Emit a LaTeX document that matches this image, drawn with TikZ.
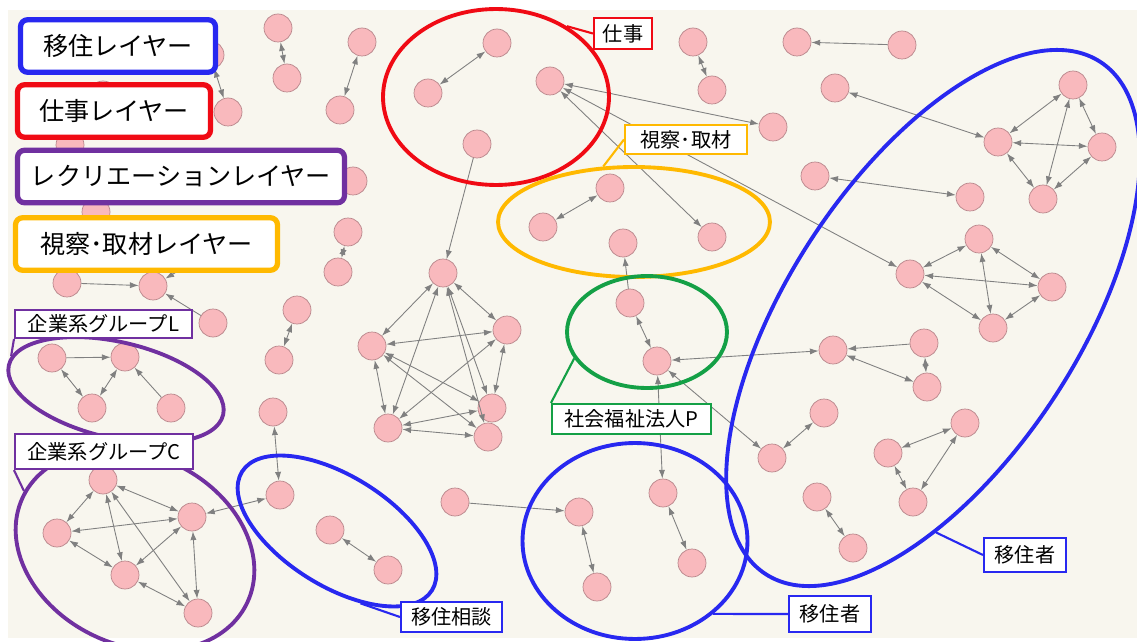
\documentclass[tikz,border=0pt]{standalone}
\usepackage{fontspec}
\setmainfont{Noto Sans CJK JP}
\usetikzlibrary{arrows.meta,shapes.geometric}

\definecolor{bgbeige}{RGB}{248,246,238}
\definecolor{nodepink}{RGB}{249,185,189}
\definecolor{nodeline}{RGB}{185,135,140}
\definecolor{edgegray}{RGB}{128,128,128}
\definecolor{moveblue}{RGB}{40,40,240}
\definecolor{jobred}{RGB}{240,10,20}
\definecolor{recpurple}{RGB}{112,48,160}
\definecolor{visitorange}{RGB}{255,185,0}
\definecolor{welfaregreen}{RGB}{20,160,70}

\begin{document}
\begin{tikzpicture}[x=0.02cm, y=-0.02cm,
    >={Latex[length=5pt,width=3.5pt]},
    pnode/.style={circle, fill=nodepink, draw=nodeline, line width=0.4pt, minimum size=0.56cm, inner sep=0pt},
    link/.style={draw=edgegray, line width=0.5pt},
    area/.style={ellipse, draw=#1, line width=2.2pt, inner sep=0pt},
    callout/.style={draw=#1, line width=1.2pt},
    tag/.style={draw=#1, line width=1.2pt, fill=white, inner sep=0pt, font=\fontsize{11.5pt}{13pt}\selectfont},
    layer/.style={draw=#1, line width=3pt, rounded corners=4pt, fill=white, inner sep=0pt, minimum height=1.05cm, font=\fontsize{14.3pt}{17pt}\selectfont}]

    % Sfondo
    \useasboundingbox (0,0) rectangle (1137,642);
    \fill[white] (0,0) rectangle (1137,642);
    \fill[bgbeige] (8,10) rectangle (1137,638);

    % Nodi nascosti dietro la legenda
    \node[pnode] (h1) at (210,55) {};
    \node[pnode] (h2) at (228,112) {};
    \node[pnode] (h3) at (353,181) {};
    \node[pnode] (h4) at (70,145) {};
    \node[pnode] (h5) at (96,212) {};
    \node[pnode] (h6) at (67,283) {};
    \node[pnode] (h7) at (153,286) {};
    \node[pnode] (h8) at (213,323) {};
    \node[pnode] (h9) at (230,240) {};
    \node[pnode] (h10) at (103,95) {};

    % Nodi in alto a sinistra
    \node[pnode] (a1) at (278,28) {};
    \node[pnode] (a2) at (287,78) {};
    \node[pnode] (a3) at (362,42) {};
    \node[pnode] (a4) at (340,110) {};
    \node[pnode] (b1) at (348,232) {};
    \node[pnode] (b2) at (338,272) {};
    \node[pnode] (b3) at (297,310) {};
    \node[pnode] (b4) at (279,360) {};
    \node[pnode] (b5) at (273,412) {};

    % Lavoro
    \node[pnode] (r1) at (497,43) {};
    \node[pnode] (r2) at (428,93) {};
    \node[pnode] (r3) at (550,81) {};
    \node[pnode] (r4) at (477,144) {};

    % Pentagono
    \node[pnode] (p1) at (443,273) {};
    \node[pnode] (p2) at (372,346) {};
    \node[pnode] (p3) at (507,330) {};
    \node[pnode] (p4) at (388,428) {};
    \node[pnode] (p5) at (492,408) {};
    \node[pnode] (p6) at (488,437) {};

    % Visite e welfare
    \node[pnode] (o1) at (610,188) {};
    \node[pnode] (o2) at (543,227) {};
    \node[pnode] (o3) at (623,243) {};
    \node[pnode] (o4) at (712,237) {};
    \node[pnode] (g1) at (630,303) {};
    \node[pnode] (g2) at (657,361) {};

    % In alto al centro
    \node[pnode] (c1) at (693,42) {};
    \node[pnode] (c2) at (712,90) {};
    \node[pnode] (c3) at (797,42) {};
    \node[pnode] (c4) at (902,45) {};
    \node[pnode] (c5) at (773,127) {};
    \node[pnode] (c6) at (835,88) {};
    \node[pnode] (c7) at (815,176) {};
    \node[pnode] (c8) at (970,197) {};

    % Gruppi a destra
    \node[pnode] (d1) at (1073,85) {};
    \node[pnode] (d2) at (998,142) {};
    \node[pnode] (d3) at (1102,147) {};
    \node[pnode] (d4) at (1043,199) {};
    \node[pnode] (e1) at (979,239) {};
    \node[pnode] (e2) at (910,274) {};
    \node[pnode] (e3) at (1052,287) {};
    \node[pnode] (e4) at (993,328) {};
    \node[pnode] (f1) at (833,350) {};
    \node[pnode] (f2) at (924,343) {};
    \node[pnode] (f3) at (927,387) {};
    \node[pnode] (f4) at (824,413) {};
    \node[pnode] (f5) at (772,458) {};
    \node[pnode] (f6) at (965,423) {};
    \node[pnode] (f7) at (888,453) {};
    \node[pnode] (f8) at (913,502) {};
    \node[pnode] (f9) at (817,497) {};
    \node[pnode] (f10) at (853,548) {};

    % In basso
    \node[pnode] (m1) at (455,502) {};
    \node[pnode] (m2) at (579,512) {};
    \node[pnode] (m3) at (663,493) {};
    \node[pnode] (m4) at (692,563) {};
    \node[pnode] (m5) at (597,587) {};
    \node[pnode] (s1) at (280,495) {};
    \node[pnode] (s2) at (330,530) {};
    \node[pnode] (s3) at (388,570) {};

    % Gruppi aziendali
    \node[pnode] (l1) at (52,358) {};
    \node[pnode] (l2) at (125,357) {};
    \node[pnode] (l3) at (92,408) {};
    \node[pnode] (l4) at (171,408) {};
    \node[pnode] (k1) at (103,480) {};
    \node[pnode] (k2) at (192,517) {};
    \node[pnode] (k3) at (57,533) {};
    \node[pnode] (k4) at (125,575) {};
    \node[pnode] (k5) at (198,613) {};

    % Archi
    \draw[link,<->] (a1) -- (a2);
    \draw[link,<->] (a3) -- (a4);
    \draw[link,<->] (h1) -- (h2);
    \draw[link,<->] (b1) -- (b2);
    \draw[link,<->] (b3) -- (b4);
    \draw[link,<->] (b5) -- (s1);
    \draw[link,->] (h6) -- (h7);
    \draw[link,->] (h8) -- (h7);
    \draw[link,->] (h9) -- (h7);

    \draw[link,<->] (r1) -- (r2);
    \draw[link,->] (r4) -- (p1);
    \draw[link,<->] (r3) -- (c5);
    \draw[link,<->] (r3) -- (o4);
    \draw[link,<->] (r3) -- (e2);

    \draw[link,<->] (p1) -- (p2);
    \draw[link,<->] (p1) -- (p3);
    \draw[link,<->] (p1) -- (p4);
    \draw[link,<->] (p1) -- (p5);
    \draw[link,<->] (p1) -- (p6);
    \draw[link,<->] (p2) -- (p3);
    \draw[link,<->] (p2) -- (p4);
    \draw[link,<->] (p2) -- (p5);
    \draw[link,<->] (p2) -- (p6);
    \draw[link,<->] (p3) -- (p4);
    \draw[link,<->] (p3) -- (p5);
    \draw[link,<->] (p4) -- (p5);
    \draw[link,<->] (p4) -- (p6);

    \draw[link,<->] (c1) -- (c2);
    \draw[link,->] (c4) -- (c3);
    \draw[link,<->] (c6) -- (d2);
    \draw[link,<->] (c7) -- (c8);

    \draw[link,<->] (d1) -- (d2);
    \draw[link,<->] (d1) -- (d3);
    \draw[link,<->] (d1) -- (d4);
    \draw[link,<->] (d2) -- (d3);
    \draw[link,<->] (d2) -- (d4);
    \draw[link,<->] (d3) -- (d4);
    \draw[link,<->] (e1) -- (e2);
    \draw[link,<->] (e1) -- (e3);
    \draw[link,<->] (e1) -- (e4);
    \draw[link,<->] (e2) -- (e3);
    \draw[link,<->] (e2) -- (e4);
    \draw[link,<->] (e3) -- (e4);

    \draw[link,<->] (o1) -- (o2);
    \draw[link,->] (g1) -- (o3);
    \draw[link,<->] (g1) -- (g2);
    \draw[link,<->] (g2) -- (m3);
    \draw[link,<->] (f1) -- (g2);
    \draw[link,<->] (g2) -- (f5);

    \draw[link,->] (f2) -- (f1);
    \draw[link,<->] (f1) -- (f3);
    \draw[link,<->] (f2) -- (f3);
    \draw[link,<->] (f4) -- (f5);
    \draw[link,<->] (f6) -- (f7);
    \draw[link,<->] (f6) -- (f8);
    \draw[link,<->] (f7) -- (f8);
    \draw[link,<->] (f9) -- (f10);

    \draw[link,->] (m1) -- (m2);
    \draw[link,<->] (m2) -- (m5);
    \draw[link,<->] (m3) -- (m4);
    \draw[link,<->] (s2) -- (s3);
    \draw[link,<->] (s1) -- (k2);

    \draw[link,<->] (l1) -- (l3);
    \draw[link,<->] (l2) -- (l3);
    \draw[link,->] (l4) -- (l2);
    \draw[link,->] (l1) -- (l2);
    \draw[link,<->] (k1) -- (k2);
    \draw[link,<->] (k1) -- (k3);
    \draw[link,<->] (k1) -- (k4);
    \draw[link,<->] (k1) -- (k5);
    \draw[link,<->] (k2) -- (k3);
    \draw[link,<->] (k2) -- (k4);
    \draw[link,<->] (k2) -- (k5);
    \draw[link,<->] (k3) -- (k4);
    \draw[link,<->] (k4) -- (k5);

    % Aree
    \node[area=jobred, minimum width=4.52cm, minimum height=3.52cm] (jobarea) at (496,97) {};
    \node[area=visitorange, minimum width=5.44cm, minimum height=2.2cm] (visitarea) at (634,222) {};
    \node[area=welfaregreen, minimum width=3.2cm, minimum height=2.24cm] (welfarearea) at (647,332) {};
    \node[area=moveblue, minimum width=12.24cm, minimum height=5.8cm, rotate=56.8] (migrantareaR) at (933,318) {};
    \node[area=moveblue, minimum width=4.5cm, minimum height=3.92cm] (migrantareaM) at (635,541) {};
    \node[area=moveblue, minimum width=4.48cm, minimum height=2.2cm, rotate=-32] (consultarea) at (337,531) {};
    \node[area=recpurple, minimum width=4.4cm, minimum height=1.92cm, rotate=-13] (groupareaL) at (116,390) {};
    \node[area=recpurple, minimum width=4.96cm, minimum height=3.8cm, rotate=-25] (groupareaC) at (135,550) {};

    % Etichette
    \node[tag=jobred, minimum width=1.16cm, minimum height=0.62cm] (joblabel) at (623,33.5) {仕事};
    \node[tag=visitorange, minimum width=2.44cm, minimum height=0.58cm] (visitlabel) at (686,139.5) {視察･取材};
    \node[tag=welfaregreen, minimum width=3.18cm, minimum height=0.6cm] (welfarelabel) at (631.5,419) {社会福祉法人P};
    \node[tag=recpurple, minimum width=3.54cm, minimum height=0.56cm] (grouplabelL) at (103.5,324) {企業系グループL};
    \node[tag=recpurple, minimum width=3.56cm, minimum height=0.7cm] (grouplabelC) at (104,451.5) {企業系グループC};
    \node[tag=moveblue, minimum width=2.02cm, minimum height=0.6cm] (consultlabel) at (451.5,617) {移住相談};
    \node[tag=moveblue, minimum width=1.64cm, minimum height=0.68cm] (migrantlabelR) at (1025,555) {移住者};
    \node[tag=moveblue, minimum width=1.64cm, minimum height=0.72cm] (migrantlabelM) at (830,614) {移住者};

    \draw[callout=jobred] (jobarea.45) -- (joblabel.west);
    \draw[callout=visitorange] (visitarea.119) -- (visitlabel.west);
    \draw[callout=welfaregreen] (welfarearea.200) -- (welfarelabel.north west);
    \draw[callout=moveblue] (migrantareaR.214) -- (migrantlabelR.west);
    \draw[callout=moveblue] (migrantareaM.317) -- (migrantlabelM.west);
    \draw[callout=moveblue] (consultarea.320) -- (consultlabel.west);
    \draw[callout=recpurple] (groupareaL.175) -- (grouplabelL.south west);
    \draw[callout=recpurple] (groupareaC.177) -- (grouplabelC.south west);

    % Legenda
    \node[layer=moveblue, minimum width=3.9cm] (legendmove) at (118,46) {移住レイヤー};
    \node[layer=jobred, minimum width=3.86cm] (legendjob) at (114,111) {仕事レイヤー};
    \node[layer=recpurple, minimum width=6.54cm] (legendrec) at (181,176.5) {レクリエーションレイヤー};
    \node[layer=visitorange, minimum width=5.24cm] (legendvisit) at (146.5,244) {視察･取材レイヤー};

\end{tikzpicture}
\end{document}
